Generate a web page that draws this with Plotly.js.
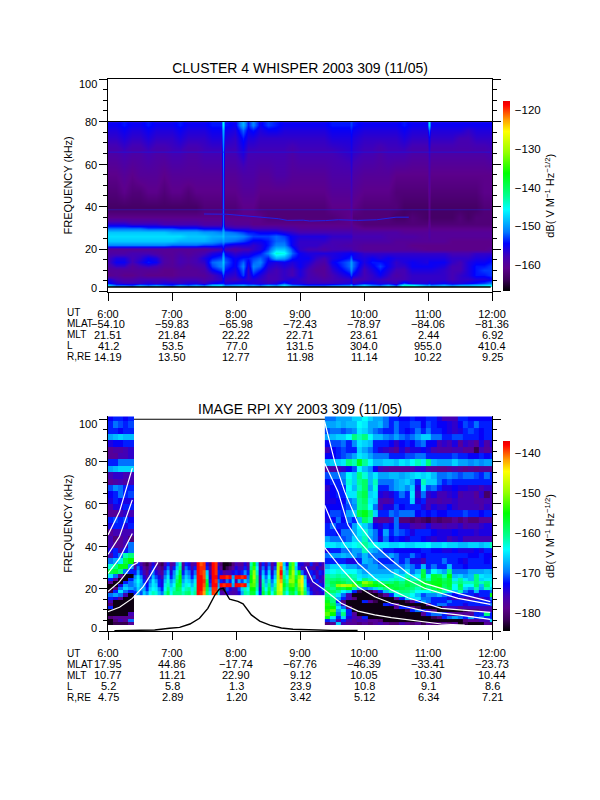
<!DOCTYPE html>
<html><head><meta charset="utf-8">
<script src="https://cdn.plot.ly/plotly-3.0.1.min.js"></script>
<style>html,body{margin:0;padding:0;background:#fff}</style></head>
<body><div id="chart" style="width:600px;height:800px"></div>
<script>
const rowLabels = ["UT","MLAT","MLT","L","R,RE"];
const hourVals = [6,7,8,9,10,11,12];
const utLabels = ["6:00","7:00","8:00","9:00","10:00","11:00","12:00"];
const freqTicks = [0,20,40,60,80,100];
const freqLabels = ["0","20","40","60","80","100"];
const topMlat = ["\u221254.10","\u221259.83","\u221265.98","\u221272.43","\u221278.97","\u221284.06","\u221281.36"];
const topMlt = ["21.51","21.84","22.22","22.71","23.61","2.44","6.92"];
const topL = ["41.2","53.5","77.0","131.5","304.0","955.0","410.4"];
const topR = ["14.19","13.50","12.77","11.98","11.14","10.22","9.25"];
const botMlat = ["17.95","44.86","\u221217.74","\u221267.76","\u221246.39","\u221233.41","\u221223.73"];
const botMlt = ["10.77","11.21","22.90","9.12","10.05","10.30","10.44"];
const botL = ["5.2","5.8","1.3","23.9","10.8","9.1","8.6"];
const botR = ["4.75","2.89","1.20","3.42","5.12","6.34","7.21"];

const rainbow = [[0,"#000000"],[0.06,"#3c0058"],[0.12,"#5c008c"],[0.18,"#4400b4"],[0.25,"#0000ff"],[0.31,"#0078ff"],[0.43,"#00ffff"],[0.5,"#00ff90"],[0.62,"#00ff00"],[0.73,"#96ff00"],[0.84,"#ffff00"],[0.9,"#ffa000"],[0.98,"#ff0000"],[1,"#e80000"]];

const topTimes = [6,6.125,6.25,6.375,6.5,6.625,6.75,6.875,7,7.125,7.25,7.375,7.5,7.625,7.77,7.8,7.83,7.98,8.11,8.19,8.27,8.375,8.5,8.625,8.75,8.875,9,9.125,9.25,9.375,9.5,9.77,9.8,9.83,10,10.125,10.25,10.375,10.5,10.625,10.75,10.98,11.01,11.04,11.25,11.375,11.5,11.625,11.75,11.875,12];
const topFreqs = [78.5,76,72,65,55,47,40,35,32,30,28,26,24,22,20,18,16,14,12,10,8,6,4,2.9];
const topDb = [
[-155,-155,-154,-155,-155,-154,-155,-155,-155,-154,-155,-155,-155,-154,-154,-146,-154,-155,-149,-154,-151,-155,-153,-154,-155,-155,-155,-155,-155,-155,-154,-154,-153,-154,-155,-155,-155,-155,-155,-154,-155,-155,-147,-155,-155,-155,-155,-155,-155,-155,-155],
[-156,-156,-155,-156,-156,-155,-156,-156,-156,-155,-156,-156,-156,-155,-155,-149,-155,-156,-152,-155,-154,-156,-155,-155,-156,-156,-156,-156,-156,-156,-155,-155,-154,-155,-156,-156,-156,-156,-156,-155,-156,-156,-152,-156,-156,-156,-156,-157,-156,-156,-156],
[-157,-157,-156,-157,-157,-156,-157,-157,-157,-156,-157,-157,-157,-156,-156,-150,-156,-157,-154,-156,-156,-157,-157,-157,-157,-157,-157,-157,-157,-157,-156,-156,-155,-156,-157,-157,-157,-157,-157,-156,-157,-157,-155,-157,-157,-157,-158,-158,-157,-157,-157],
[-159,-159,-158,-159,-159,-158,-159,-159,-158,-158,-159,-159,-158,-158,-158,-151,-158,-158,-156,-158,-158,-158,-158,-158,-158,-159,-158,-158,-158,-158,-158,-157,-156,-157,-158,-158,-159,-158,-158,-158,-159,-159,-157,-159,-159,-159,-159,-159,-159,-159,-158],
[-161,-161,-160,-161,-160,-160,-160,-161,-160,-160,-160,-160,-160,-160,-160,-152,-160,-160,-159,-159,-159,-160,-160,-159,-159,-160,-160,-160,-160,-160,-159,-159,-157,-159,-160,-160,-160,-160,-161,-161,-161,-161,-159,-161,-161,-161,-161,-161,-161,-161,-161],
[-162,-162,-161,-162,-162,-161,-161,-162,-161,-161,-162,-161,-161,-161,-161,-152,-161,-161,-160,-160,-160,-161,-161,-161,-161,-161,-161,-161,-161,-161,-160,-160,-158,-160,-161,-161,-161,-161,-162,-162,-162,-162,-160,-162,-162,-162,-162,-162,-162,-161,-161],
[-163,-163,-163,-163,-163,-163,-163,-163,-163,-163,-163,-163,-162,-162,-162,-152,-162,-162,-161,-161,-161,-162,-162,-162,-162,-162,-162,-162,-162,-162,-161,-161,-159,-161,-162,-162,-162,-162,-162,-163,-163,-163,-161,-163,-163,-163,-163,-163,-163,-162,-162],
[-161,-161,-161,-161,-161,-161,-161,-161,-161,-161,-161,-161,-161,-161,-161,-152,-161,-161,-161,-161,-161,-161,-162,-162,-162,-162,-162,-162,-162,-162,-162,-161,-160,-162,-162,-162,-162,-162,-163,-163,-162,-163,-161,-163,-163,-163,-162,-163,-162,-162,-162],
[-156,-156,-156,-157,-157,-157,-157,-158,-158,-158,-158,-158,-159,-159,-159,-152,-159,-160,-160,-160,-161,-161,-161,-161,-161,-161,-161,-161,-161,-161,-161,-161,-160,-161,-162,-162,-162,-162,-162,-162,-162,-162,-160,-162,-162,-162,-162,-162,-162,-162,-162],
[-152,-152,-152,-152,-152,-153,-153,-153,-153,-154,-154,-154,-155,-155,-155,-151,-156,-157,-157,-157,-158,-158,-158,-158,-159,-159,-160,-160,-160,-160,-160,-160,-159,-160,-161,-161,-161,-161,-161,-161,-161,-161,-160,-161,-161,-161,-161,-161,-161,-161,-161],
[-148,-148,-148,-148,-148,-148,-148,-148,-149,-149,-149,-149,-150,-150,-151,-149,-151,-152,-153,-154,-154,-155,-155,-155,-156,-157,-158,-158,-158,-158,-158,-158,-158,-159,-159,-159,-159,-159,-159,-160,-160,-160,-159,-160,-160,-160,-160,-160,-160,-160,-160],
[-147,-147,-147,-147,-147,-147,-147,-147,-147,-147,-148,-148,-148,-149,-149,-148,-150,-150,-151,-152,-153,-153,-153,-152,-153,-155,-156,-156,-156,-156,-157,-157,-157,-158,-158,-158,-158,-159,-159,-159,-159,-160,-159,-160,-160,-160,-160,-160,-160,-160,-160],
[-148,-148,-148,-148,-148,-148,-148,-148,-148,-149,-149,-149,-149,-150,-151,-150,-151,-152,-153,-154,-155,-155,-154,-152,-152,-155,-157,-157,-157,-157,-158,-158,-158,-159,-159,-159,-159,-159,-160,-160,-160,-160,-160,-160,-160,-161,-161,-161,-161,-161,-161],
[-151,-151,-151,-151,-151,-151,-151,-151,-152,-152,-152,-152,-153,-153,-154,-153,-155,-156,-156,-156,-157,-156,-154,-151,-151,-155,-157,-157,-157,-158,-158,-159,-159,-159,-160,-160,-160,-160,-160,-160,-161,-161,-161,-161,-161,-161,-161,-161,-161,-161,-161],
[-160,-160,-160,-160,-160,-160,-160,-160,-160,-160,-160,-160,-160,-159,-158,-155,-158,-159,-158,-158,-157,-156,-153,-148,-148,-153,-157,-158,-158,-159,-158,-158,-158,-159,-160,-160,-160,-160,-160,-160,-160,-161,-161,-161,-161,-161,-161,-161,-161,-161,-160],
[-159,-159,-159,-158,-158,-158,-159,-160,-160,-159,-160,-159,-158,-156,-155,-151,-155,-157,-156,-156,-155,-154,-151,-144,-145,-152,-155,-156,-156,-156,-156,-155,-155,-155,-157,-157,-157,-157,-157,-157,-157,-157,-157,-157,-157,-158,-158,-158,-157,-157,-157],
[-158,-156,-156,-158,-157,-155,-156,-159,-160,-158,-159,-158,-156,-154,-153,-149,-153,-155,-154,-154,-153,-152,-154,-149,-150,-154,-155,-155,-157,-158,-156,-154,-152,-155,-156,-155,-156,-155,-156,-156,-156,-156,-156,-156,-156,-157,-157,-157,-156,-156,-155],
[-158,-155,-155,-158,-156,-154,-155,-159,-160,-158,-159,-158,-157,-152,-151,-148,-152,-155,-152,-155,-152,-151,-155,-156,-155,-156,-155,-156,-158,-159,-155,-152,-150,-152,-156,-154,-154,-155,-157,-156,-155,-156,-155,-155,-155,-157,-158,-156,-155,-155,-154],
[-159,-157,-157,-160,-158,-157,-158,-160,-160,-159,-160,-159,-158,-153,-151,-149,-153,-155,-151,-156,-151,-152,-156,-157,-156,-157,-155,-157,-159,-160,-156,-152,-150,-152,-157,-155,-153,-155,-157,-157,-155,-155,-155,-155,-156,-158,-158,-156,-154,-154,-153],
[-160,-160,-160,-160,-160,-160,-160,-161,-161,-160,-160,-160,-159,-155,-153,-150,-154,-156,-152,-157,-152,-154,-157,-158,-157,-158,-156,-158,-160,-160,-157,-153,-151,-153,-158,-156,-154,-156,-158,-158,-156,-156,-156,-156,-157,-158,-158,-156,-154,-153,-153],
[-161,-160,-161,-161,-160,-161,-161,-161,-161,-160,-160,-160,-160,-158,-156,-153,-156,-157,-153,-157,-154,-156,-158,-158,-157,-158,-156,-158,-159,-160,-158,-155,-153,-155,-158,-157,-155,-157,-159,-158,-157,-157,-157,-157,-157,-158,-157,-156,-154,-154,-153],
[-156,-158,-159,-159,-158,-158,-158,-158,-159,-158,-158,-158,-159,-158,-157,-155,-157,-158,-156,-157,-156,-157,-158,-158,-157,-156,-157,-158,-158,-159,-158,-157,-156,-158,-158,-157,-157,-158,-158,-158,-157,-157,-157,-157,-157,-158,-157,-157,-156,-156,-155],
[-154,-156,-157,-157,-157,-156,-157,-156,-156,-157,-156,-156,-157,-155,-154,-154,-156,-155,-155,-155,-156,-156,-157,-156,-153,-156,-156,-157,-157,-157,-157,-156,-155,-157,-155,-155,-156,-156,-157,-153,-156,-156,-155,-156,-155,-156,-156,-155,-154,-153,-151],
[-148,-152,-152,-153,-150,-152,-150,-152,-153,-150,-152,-150,-152,-148,-147,-149,-151,-150,-149,-151,-150,-152,-149,-151,-147,-151,-152,-153,-153,-153,-152,-151,-149,-152,-148,-151,-152,-149,-153,-144,-145,-150,-149,-151,-149,-151,-149,-149,-148,-147,-146]
];
const topLineTimes = [7.5,7.7,7.85,8.66,8.8,9.05,9.15,9.4,9.6,9.9,10.2,10.5,10.7];
const topLineFreqs = [36.5,36.6,36.4,34.3,33.5,33.6,33.2,33.4,33.8,33.5,33.8,35,35];

const botFreqs = [100.5,97.5,94.5,91.5,88.5,85.5,82.5,79.5,76.5,73.5,70.5,67.5,64.5,61.5,58.5,55.5,52.5,49.5,46.5,43.5,40.5,38,35.5,33,30.5,28,26,24.5,23,21.5,20,18.5,17,15.5,14,12.5,11,9.5,8,6.5,5,3.5];
const leftDb = [
[-173,-172,-172,-173,-172],[-172,-170,-171,-172,-171],[-172,-172,-173,-172,-172],[-168,-167,-166,-167,-167],[-174,-173,-173,-172,-172],[-178,-177,-177,-176,-175],[-178,-178,-176,-176,-175],[-172,-172,-170,-170,-170],[-168,-167,-166,-166,-166],[-176,-175,-175,-176,-176],[-178,-177,-176,-177,-176],[-171,-169,-170,-172,-172],[-173,-172,-170,-172,-171],[-174,-172,-173,-174,-174],[-176,-174,-174,-172,-172],[-178,-178,-176,-175,-176],[-172,-171,-172,-171,-173],[-174,-172,-172,-174,-172],[-178,-176,-176,-176,-176],[-176,-180,-178,-176,-180],[-176,-178,-178,-176,-170],[-174,-172,-176,-172,-170],[-176,-172,-170,-162,-160],[-170,-168,-165,-158,-155],[-163,-160,-156,-156,-168],[-158,-157,-160,-170,-172],[-165,-170,-178,-184,-184],[-172,-178,-184,-184,-172],[-178,-184,-184,-172,-170],[-184,-184,-174,-168,-170],[-184,-180,-170,-166,-168],[-182,-172,-165,-170,-172],[-170,-168,-170,-176,-184],[-172,-174,-178,-184,-184],[-176,-184,-184,-184,-184],[-180,-184,-184,-184,-184],[-172,-184,-184,-184,-184],[-184,-184,-184,-184,-184],[-184,-184,-184,-184,-176],[-180,-178,-178,-178,-178],[-184,-180,-176,-178,-170],[-184,-182,-182,-182,-178]
];
const rightDb = [
[-170,-170,-168,-168,-168,-166,-166,-164,-166,-168,-168,-170,-172,-172,-173,-173,-172,-173,-173,-172,-172,-174,-176,-176,-176,-172,-172,-173,-173,-173,-173,-173],
[-168,-168,-167,-168,-167,-167,-164,-165,-168,-168,-167,-170,-172,-170,-172,-172,-171,-171,-173,-171,-172,-173,-173,-174,-175,-173,-171,-172,-170,-172,-172,-172],
[-171,-170,-170,-171,-170,-169,-165,-166,-168,-170,-171,-172,-172,-170,-172,-173,-172,-170,-172,-170,-172,-172,-173,-174,-175,-174,-172,-171,-172,-173,-172,-172],
[-168,-167,-166,-166,-164,-160,-162,-160,-164,-167,-167,-169,-170,-168,-170,-171,-170,-168,-166,-166,-170,-170,-172,-172,-171,-171,-172,-172,-172,-173,-172,-172],
[-173,-171,-171,-170,-172,-169,-165,-166,-167,-172,-172,-172,-173,-175,-173,-172,-173,-171,-170,-173,-173,-176,-175,-176,-174,-178,-175,-176,-178,-174,-177,-174],
[-176,-173,-172,-171,-172,-172,-166,-168,-170,-172,-174,-175,-176,-178,-174,-176,-174,-174,-173,-174,-176,-177,-177,-177,-176,-176,-178,-178,-182,-176,-178,-176],
[-173,-173,-172,-171,-170,-168,-165,-166,-168,-170,-170,-170,-172,-172,-172,-171,-171,-170,-170,-172,-172,-172,-172,-172,-171,-172,-172,-173,-173,-172,-173,-172],
[-167,-166,-166,-165,-160,-162,-156,-161,-164,-167,-167,-166,-166,-167,-165,-166,-164,-162,-165,-160,-167,-168,-168,-168,-166,-168,-168,-169,-168,-169,-168,-168],
[-177,-177,-176,-175,-173,-171,-164,-167,-169,-173,-176,-177,-178,-178,-178,-178,-177,-175,-175,-177,-178,-179,-179,-178,-177,-178,-179,-178,-179,-178,-178,-178],
[-171,-170,-170,-169,-164,-166,-160,-163,-167,-165,-168,-168,-167,-167,-168,-167,-166,-165,-166,-165,-167,-170,-170,-169,-170,-171,-170,-170,-171,-172,-170,-172],
[-173,-172,-172,-170,-163,-166,-161,-159,-167,-162,-170,-170,-170,-168,-167,-166,-168,-172,-162,-166,-166,-170,-172,-171,-172,-172,-172,-172,-172,-172,-172,-172],
[-175,-173,-172,-172,-164,-167,-162,-159,-168,-163,-172,-172,-170,-168,-167,-169,-166,-174,-165,-171,-170,-172,-174,-174,-173,-174,-174,-175,-175,-176,-175,-175],
[-174,-173,-172,-172,-165,-165,-160,-158,-166,-165,-174,-175,-174,-172,-170,-172,-165,-175,-170,-175,-174,-176,-176,-175,-174,-177,-176,-176,-178,-175,-181,-176],
[-174,-174,-173,-173,-170,-168,-161,-159,-165,-166,-176,-177,-176,-172,-172,-172,-166,-174,-172,-176,-176,-177,-176,-176,-175,-176,-176,-176,-177,-177,-176,-176],
[-173,-173,-173,-172,-171,-169,-161,-160,-164,-170,-176,-174,-174,-171,-173,-172,-172,-172,-174,-176,-174,-175,-175,-173,-175,-176,-176,-176,-176,-177,-175,-176],
[-173,-171,-171,-172,-168,-166,-158,-156,-160,-166,-172,-172,-170,-171,-170,-170,-170,-173,-172,-173,-172,-173,-173,-172,-172,-172,-171,-172,-172,-173,-172,-172],
[-174,-173,-170,-173,-170,-172,-167,-159,-162,-176,-178,-178,-176,-170,-180,-180,-181,-180,-181,-182,-180,-181,-180,-180,-178,-180,-178,-180,-180,-178,-178,-178],
[-172,-170,-172,-172,-172,-168,-164,-166,-169,-173,-174,-172,-173,-170,-174,-174,-176,-177,-176,-174,-176,-176,-177,-176,-176,-175,-177,-176,-176,-175,-174,-174],
[-172,-172,-173,-170,-170,-168,-165,-163,-167,-170,-173,-168,-172,-170,-171,-172,-174,-172,-172,-172,-173,-174,-174,-174,-173,-174,-174,-174,-175,-174,-174,-174],
[-168,-170,-170,-171,-170,-166,-166,-162,-168,-170,-174,-170,-173,-172,-173,-174,-172,-172,-173,-174,-175,-174,-174,-176,-175,-174,-176,-176,-176,-176,-176,-176],
[-165,-165,-166,-165,-165,-164,-163,-161,-163,-164,-165,-165,-166,-166,-165,-166,-166,-165,-165,-164,-166,-166,-165,-166,-166,-167,-167,-166,-166,-167,-166,-162],
[-174,-172,-172,-170,-170,-168,-168,-162,-167,-168,-170,-172,-172,-173,-173,-173,-173,-173,-172,-172,-173,-173,-174,-174,-173,-174,-174,-174,-173,-174,-172,-172],
[-170,-168,-168,-167,-168,-168,-170,-167,-170,-170,-170,-170,-168,-170,-172,-172,-170,-172,-173,-172,-172,-172,-172,-172,-172,-172,-172,-173,-173,-172,-173,-174],
[-172,-172,-172,-172,-174,-174,-172,-167,-168,-170,-172,-172,-172,-170,-172,-170,-174,-174,-176,-172,-172,-172,-170,-172,-172,-173,-174,-172,-172,-172,-173,-172],
[-168,-166,-166,-166,-168,-168,-170,-170,-168,-168,-170,-170,-170,-170,-170,-168,-170,-172,-167,-172,-170,-172,-172,-167,-172,-172,-173,-172,-172,-172,-172,-172],
[-165,-164,-163,-164,-164,-164,-166,-168,-168,-168,-168,-168,-168,-166,-168,-165,-170,-167,-158,-170,-164,-166,-168,-160,-170,-170,-170,-168,-168,-168,-167,-168],
[-161,-162,-161,-162,-161,-162,-165,-166,-165,-166,-166,-166,-166,-163,-165,-162,-166,-164,-157,-164,-157,-158,-162,-155,-167,-166,-168,-167,-160,-165,-166,-166],
[-160,-160,-159,-160,-161,-161,-164,-160,-162,-164,-165,-165,-163,-162,-163,-159,-162,-162,-159,-162,-157,-156,-159,-157,-165,-161,-165,-167,-160,-166,-165,-165],
[-160,-158,-157,-158,-160,-158,-156,-150,-152,-157,-159,-160,-160,-158,-160,-158,-159,-159,-157,-157,-156,-156,-158,-157,-162,-160,-162,-162,-160,-162,-160,-163],
[-161,-159,-150,-148,-149,-152,-159,-153,-154,-155,-157,-155,-157,-158,-159,-157,-159,-160,-157,-159,-156,-155,-159,-157,-164,-158,-164,-164,-159,-167,-159,-164],
[-159,-161,-157,-158,-155,-161,-168,-170,-168,-166,-162,-160,-158,-157,-158,-159,-160,-162,-159,-160,-158,-156,-160,-158,-164,-159,-166,-168,-162,-168,-162,-166],
[-157,-159,-161,-164,-166,-172,-182,-184,-182,-178,-172,-167,-162,-162,-160,-160,-162,-164,-164,-164,-162,-160,-162,-165,-167,-162,-170,-172,-167,-172,-172,-170],
[-160,-162,-165,-170,-176,-184,-184,-184,-184,-184,-182,-178,-172,-165,-162,-162,-164,-167,-171,-169,-169,-167,-170,-171,-173,-172,-172,-172,-174,-172,-172,-156],
[-158,-160,-168,-172,-176,-180,-184,-184,-184,-184,-184,-184,-184,-178,-172,-167,-165,-165,-170,-170,-172,-172,-172,-174,-176,-175,-176,-176,-176,-176,-174,-170],
[-156,-160,-172,-180,-184,-184,-184,-172,-178,-182,-184,-184,-184,-184,-184,-182,-178,-172,-168,-170,-172,-172,-172,-170,-172,-172,-172,-172,-172,-172,-172,-172],
[-154,-158,-168,-176,-184,-184,-184,-184,-184,-184,-184,-172,-174,-178,-184,-184,-184,-184,-184,-178,-172,-170,-170,-172,-172,-172,-174,-172,-172,-172,-172,-170],
[-155,-155,-165,-170,-180,-184,-184,-184,-184,-184,-184,-184,-184,-178,-172,-172,-178,-182,-184,-184,-184,-184,-178,-176,-176,-178,-176,-176,-176,-176,-176,-176],
[-154,-152,-168,-163,-172,-184,-184,-184,-184,-184,-184,-184,-184,-184,-184,-182,-172,-170,-172,-176,-180,-184,-184,-184,-184,-184,-182,-180,-180,-178,-176,-176],
[-152,-155,-170,-160,-172,-178,-184,-184,-184,-184,-184,-184,-184,-184,-184,-184,-184,-184,-178,-172,-170,-170,-172,-176,-178,-178,-178,-178,-172,-172,-160,-172],
[-156,-165,-172,-166,-174,-176,-178,-172,-184,-184,-184,-184,-184,-184,-184,-184,-184,-184,-184,-184,-182,-180,-172,-170,-168,-170,-172,-168,-172,-170,-172,-172],
[-172,-170,-176,-172,-176,-178,-176,-176,-178,-178,-180,-184,-184,-184,-184,-184,-184,-184,-184,-184,-184,-184,-184,-184,-184,-184,-180,-178,-178,-176,-176,-166],
[-180,-178,-166,-176,-178,-178,-180,-178,-180,-178,-176,-178,-180,-180,-176,-178,-180,-178,-182,-178,-180,-180,-178,-180,-178,-184,-182,-184,-184,-184,-178,-180]
];
const midFreqs = [31.5,29.5,27.5,25.5,23.5,21.5,19.5,17.7];
const midDb = [
[-178,-172,-176,-180,-182,-178,-174,-178,-180,-182,-176,-172,-178,-176,-168,-162,-178,-172,-174,-178,-176,-138,-140,-139,-174,-180,-138,-139,-176,-180,-184,-184,-183,-180,-176,-178,-178,-174,-178,-162,-155,-166,-178,-172,-176,-171,-178,-174,-150,-142,-166,-172,-158,-152,-164,-174,-174,-176,-178,-172,-176,-178,-174,-176],
[-176,-170,-174,-178,-180,-176,-172,-176,-178,-180,-174,-170,-176,-172,-166,-160,-176,-170,-172,-176,-172,-138,-139,-139,-172,-178,-138,-139,-174,-178,-184,-182,-180,-178,-174,-176,-176,-172,-176,-160,-153,-164,-176,-170,-174,-169,-176,-171,-149,-140,-164,-170,-156,-151,-166,-172,-176,-176,-174,-176,-178,-174,-176,-178],
[-172,-168,-172,-176,-179,-174,-170,-174,-176,-178,-171,-167,-174,-169,-163,-157,-172,-168,-170,-174,-170,-138,-139,-140,-166,-176,-138,-139,-172,-174,-178,-176,-176,-174,-172,-174,-172,-169,-172,-157,-150,-162,-174,-167,-172,-166,-174,-168,-148,-138,-162,-167,-154,-149,-162,-155,-170,-174,-176,-172,-174,-176,-172,-174],
[-169,-165,-169,-174,-177,-172,-167,-171,-174,-176,-169,-165,-172,-168,-161,-155,-170,-166,-168,-172,-167,-138,-138,-140,-162,-174,-138,-138,-172,-138,-138,-139,-138,-168,-138,-138,-139,-138,-170,-155,-149,-160,-176,-165,-170,-164,-172,-166,-149,-140,-160,-164,-152,-150,-158,-151,-146,-167,-176,-175,-171,-176,-174,-176],
[-167,-164,-167,-172,-175,-170,-165,-168,-172,-174,-167,-163,-169,-166,-159,-155,-168,-165,-166,-169,-165,-138,-138,-139,-158,-172,-138,-139,-170,-172,-175,-170,-172,-166,-176,-168,-171,-166,-169,-155,-151,-160,-177,-162,-168,-162,-170,-164,-148,-142,-158,-162,-150,-150,-156,-149,-144,-165,-174,-175,-174,-172,-176,-175],
[-168,-165,-168,-170,-173,-168,-165,-166,-172,-174,-165,-162,-167,-164,-157,-157,-166,-163,-164,-167,-163,-138,-138,-140,-156,-171,-138,-138,-168,-138,-139,-138,-138,-168,-138,-138,-139,-138,-166,-153,-152,-161,-176,-161,-166,-160,-168,-162,-148,-144,-156,-160,-153,-152,-158,-150,-146,-163,-172,-176,-175,-176,-172,-174],
[-170,-166,-169,-168,-172,-166,-164,-165,-169,-172,-164,-160,-165,-162,-158,-159,-164,-162,-161,-165,-162,-138,-138,-141,-158,-167,-139,-139,-166,-180,-182,-171,-174,-176,-177,-171,-166,-162,-164,-155,-155,-162,-174,-159,-164,-158,-166,-160,-148,-146,-158,-162,-156,-155,-160,-152,-148,-161,-170,-174,-176,-175,-174,-171],
[-172,-167,-171,-166,-169,-164,-162,-163,-167,-170,-162,-158,-164,-160,-160,-160,-162,-160,-159,-163,-161,-138,-139,-142,-160,-165,-139,-140,-164,-176,-178,-174,-176,-177,-176,-174,-168,-161,-162,-157,-157,-164,-172,-157,-162,-156,-164,-158,-149,-148,-160,-164,-158,-157,-162,-154,-150,-159,-168,-172,-175,-176,-175,-174]
];

const curveTimesA = [6,6.18,6.38,6.55,6.65,6.78], curveFreqsA = [9.1,11.2,15.4,21,25.7,32.4];
const curveTimesB = [6,6.18,6.38,6.47], curveFreqsB = [18.6,23.3,31,32.4];
const curveTimesC = [6,6.18,6.38], curveFreqsC = [27.2,34.3,46];
const curveTimesD = [6,6.18,6.38], curveFreqsD = [36.2,44.6,61.9];
const curveTimesE = [6,6.18,6.38], curveFreqsE = [45.4,56.4,76.9];
const rightTimesA = [9.09,9.2,9.385,9.645,9.906,10.167,10.427,10.688,10.948,11.208,11.573], rightFreqsA = [30.4,23.3,19.4,13.1,9.4,7.6,6.3,5.2,4.1,3.3,2.8];
const rightTimesB = [9.385,9.645,9.906,10.167,10.427,10.948,11.469,11.974], rightFreqsB = [39.4,29.6,20.9,16.2,13.1,9.4,7.6,5.5];
const rightTimesC = [9.385,9.516,9.698,9.906,10.167,10.427,10.688,11.208,11.974], rightFreqsC = [59.4,50,40.6,32,24.9,19.4,15.7,10.7,8.8];
const rightTimesD = [9.385,9.594,9.75,9.906,10.167,10.427,10.688,10.948,11.469,11.974], rightFreqsD = [79.2,65.8,50,43,34.3,28,24.1,20.2,15.4,12.6];
const rightTimesE = [9.385,9.542,9.698,9.906,10.167,10.427,10.688,10.948,11.469,11.974], rightFreqsE = [98.9,80,65.8,50.9,40.6,33.5,27.2,22.5,17.8,13.9];
const blackTimes = [6.10,6.73,6.96,7.12,7.28,7.43,7.56,7.67,7.74,7.80,7.83,7.90,8.03,8.11,8.24,8.37,8.53,8.71,8.89,9.13,9.5,9.9];
const blackFreqs = [0.1,0.5,1.3,1.7,3.3,6,10.7,17,19.8,20.2,18.6,15,14,12.8,7.6,4.7,2.8,1.4,0.8,0.5,0.3,0.2];

const W=600,H=800,mL=108.3,mR=W-492.3,mT=79.3,mB=H-631;
const plotH=H-mT-mB, plotW=W-mL-mR;
const py=v=>(631-v)/plotH, px=v=>(v-mL)/plotW;
const FONT="Liberation Sans";
const flipRows=a=>a.slice().reverse();

function hm(xa,ya,extra){return Object.assign({type:"heatmap",xaxis:xa,yaxis:ya,colorscale:rainbow,hoverinfo:"skip"},extra);}
function cb(yBottom){return {thickness:7,thicknessmode:"pixels",len:190,lenmode:"pixels",x:px(503),xanchor:"left",xpad:0,y:py(yBottom),yanchor:"bottom",ypad:0,outlinewidth:0,ticks:"outside",ticklen:3,tickwidth:0,tickcolor:"#fff",tickfont:{family:FONT,size:11.5,color:"#000"},
  title:{text:"dB( V M<sup>\u22121</sup> Hz<sup>\u22121/2</sup>)",side:"right",font:{family:FONT,size:11,color:"#000"}}};}
function white(x,y){return {type:"scatter",mode:"lines",x:x,y:y,xaxis:"x2",yaxis:"y2",line:{color:"#fff",width:1.2},hoverinfo:"skip",showlegend:false};}

const traces=[
 hm("x","y",{x:topTimes,y:flipRows(topFreqs),z:flipRows(topDb),zsmooth:"best",zmin:-166.8,zmax:-117.5,colorbar:Object.assign(cb(291),{tickvals:[-160,-150,-140,-130,-120]})}),
 {type:"scatter",mode:"lines",x:topLineTimes,y:topLineFreqs,xaxis:"x",yaxis:"y",line:{color:"#2020e8",width:1},hoverinfo:"skip",showlegend:false},
 hm("x2","y2",{x0:6.04,dx:0.08,y:flipRows(botFreqs),z:flipRows(leftDb),zmin:-184.6,zmax:-137,colorbar:Object.assign(cb(631),{tickvals:[-180,-170,-160,-150,-140]})}),
 hm("x2","y2",{x0:9.43,dx:0.083,y:flipRows(botFreqs),z:flipRows(rightDb),zmin:-184.6,zmax:-137,showscale:false}),
 hm("x2","y2",{x0:6.423,dx:0.0466,y:flipRows(midFreqs),z:flipRows(midDb),zmin:-184.6,zmax:-137,showscale:false}),
 white(curveTimesA,curveFreqsA),white(curveTimesB,curveFreqsB),white(curveTimesC,curveFreqsC),white(curveTimesD,curveFreqsD),white(curveTimesE,curveFreqsE),
 white(rightTimesA,rightFreqsA),white(rightTimesB,rightFreqsB),white(rightTimesC,rightFreqsC),white(rightTimesD,rightFreqsD),white(rightTimesE,rightFreqsE),
 {type:"scatter",mode:"lines",x:blackTimes,y:blackFreqs,xaxis:"x2",yaxis:"y2",line:{color:"#000",width:1.4},hoverinfo:"skip",showlegend:false}
];

function yax(dom,rng){return {domain:dom,range:rng,autorange:false,showline:true,linecolor:"#000",linewidth:1.2,mirror:"allticks",showgrid:false,zeroline:false,ticks:"outside",ticklen:8,tickwidth:1,tickcolor:"#000",tickmode:"array",tickvals:freqTicks,showticklabels:false,minor:{dtick:5,ticks:"outside",ticklen:4,tickwidth:1,tickcolor:"#000",showgrid:false},automargin:false,
 title:{text:"FREQUENCY (kHz)",standoff:24,font:{family:FONT,size:11,color:"#000"}}};}
function xax(anchor,mir){return {anchor:anchor,domain:[0,1],range:[6,12],autorange:false,showline:true,linecolor:"#000",linewidth:1.2,mirror:mir,showgrid:false,zeroline:false,ticks:"outside",ticklen:8,tickwidth:1,tickcolor:"#000",tickmode:"array",tickvals:hourVals,ticktext:utLabels,tickfont:{family:FONT,size:11,color:"#000"},ticklabelstandoff:4,automargin:false};}

const ann=[];
function label(xref,x,xanchor,yPix,text,size){ann.push({xref:xref,x:x,xanchor:xanchor,yref:"paper",y:py(yPix),yanchor:"middle",text:text,showarrow:false,borderpad:0,font:{family:FONT,size:size||11,color:"#000"}});}
[[313,topMlat,topMlt,topL,topR,[288,249,207,165,122,84]],[653,botMlat,botMlt,botL,botR,[628,589,547,505,462,424]]].forEach(([y0,a,b,c,d,yl],k)=>{
  rowLabels.forEach((t,i)=>label("paper",px(66.7),"left",y0+i*11,t,10));
  [a,b,c,d].forEach((arr,r)=>arr.forEach((t,i)=>label(k?"x2":"x",hourVals[i],"center",y0+(r+1)*11,t)));
  freqLabels.forEach((t,i)=>label("paper",px(98),"right",yl[i],t));
});
label("paper",0.5,"center",409,"IMAGE RPI XY 2003 309 (11/05)",14);

const shapes=[
 {type:"line",xref:"x",yref:"y",x0:6,x1:12,y0:80,y1:80,line:{color:"#000",width:1.2}},
 {type:"line",xref:"x",yref:"y",x0:6,x1:11.98,y0:2.2,y1:2.2,line:{color:"#000",width:1.5}},
 {type:"line",xref:"x",yref:"y",x0:6,x1:11.98,y0:65.6,y1:65.6,line:{color:"#1818e0",width:1},opacity:0.7},
 {type:"line",xref:"x",yref:"y",x0:6,x1:11.98,y0:38.5,y1:38.5,line:{color:"#2020d0",width:1},opacity:0.5},
 {type:"line",xref:"x2",yref:"y2",x0:6,x1:12,y0:100,y1:100,layer:"below",line:{color:"#000",width:1.2}}
];

const layout={width:W,height:H,showlegend:false,paper_bgcolor:"#fff",plot_bgcolor:"rgba(0,0,0,0)",
 margin:{l:mL,r:mR,t:mT,b:mB,pad:0,autoexpand:false},
 title:{text:"CLUSTER 4 WHISPER 2003 309 (11/05)",x:0.5,xanchor:"center",y:(H-68)/H,yanchor:"middle",font:{family:FONT,size:14,color:"#000"}},
 xaxis:xax("y",true),yaxis:yax([py(291.8),1],[0,100]),
 xaxis2:xax("y2",false),yaxis2:yax([0,py(416.6)],[0,101.3]),
 annotations:ann,shapes:shapes};
Plotly.newPlot("chart",traces,layout,{staticPlot:true,displayModeBar:false});
</script></body></html>
